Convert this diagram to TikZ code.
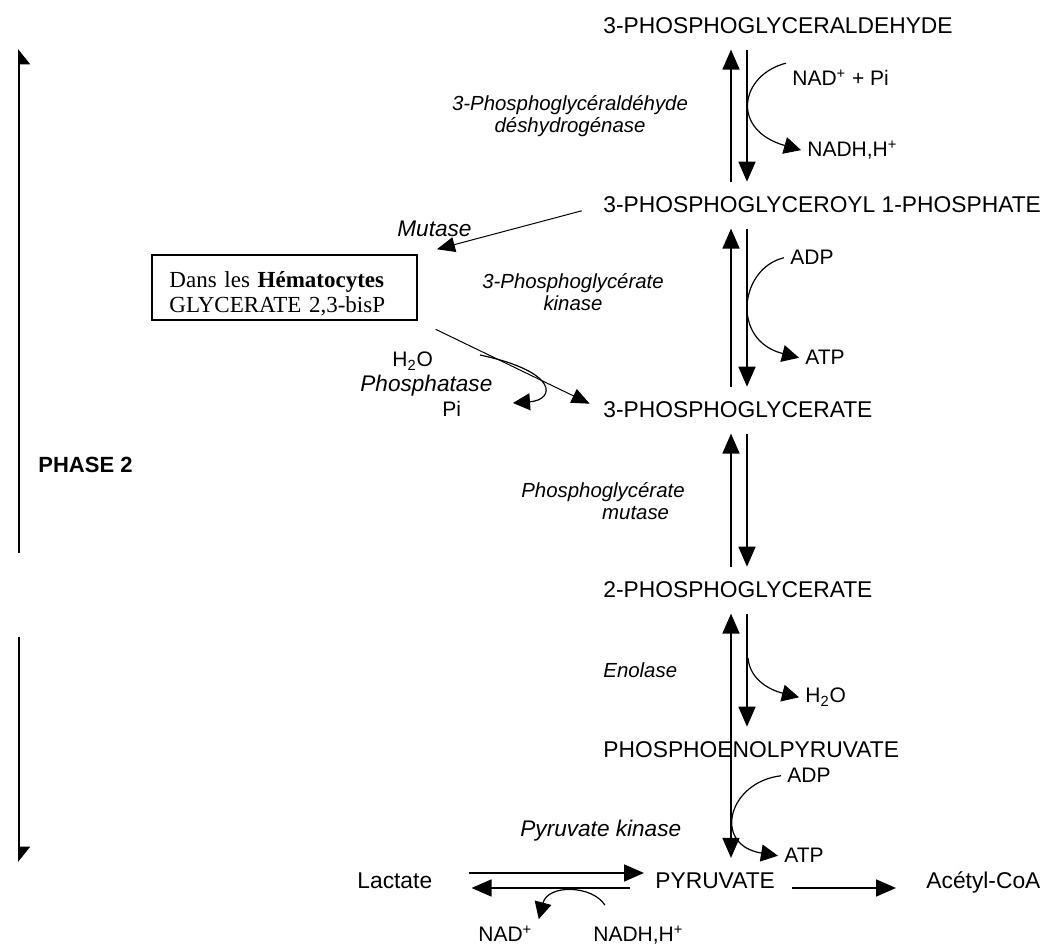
\documentclass[tikz,border=0pt]{standalone}
\usepackage{fontspec}
\setmainfont{Liberation Sans}
\newfontfamily\hemafont{Liberation Serif}
\usetikzlibrary{arrows.meta,calc}

\tikzset{
  metab/.style={anchor=base west,inner xsep=0pt,inner ysep=7.5pt,font=\fontsize{11.4}{13}\selectfont},
  cofac/.style={anchor=base west,inner sep=3pt,font=\fontsize{10.5}{12}\selectfont},
  enz/.style={align=center,inner sep=0pt,font=\fontsize{10.2}{11}\selectfont\itshape},
  enzbig/.style={anchor=base west,inner sep=0pt,font=\fontsize{11.3}{13}\selectfont\itshape},
  rxn/.style={-{Triangle[length=10pt,width=8.5pt]},line width=0.9pt},
  thinrxn/.style={-{Triangle[length=9pt,width=7.5pt]},line width=0.5pt},
  side/.style={-{Triangle[length=8.5pt,width=8.5pt]},line width=0.6pt},
}

\begin{document}
\begin{tikzpicture}[x=0.5pt,y=-0.5pt]
\useasboundingbox (0,0) rectangle (1046,945);
%\draw[help lines,step=50] (0,0) grid (1046,945);
\coordinate (upx) at (731,0); \coordinate (dnx) at (747,0);
\coordinate (hi) at (0,873); \coordinate (lo) at (0,888);
% metabolites
\node[metab] (gap) at (603,34) {3-PHOSPHOGLYCERALDEHYDE};
\node[metab] (bpg) at (603,213) {3-PHOSPHOGLYCEROYL 1-PHOSPHATE};
\node[metab] (pga3) at (603,418) {3-PHOSPHOGLYCERATE};
\node[metab] (pga2) at (603,598) {2-PHOSPHOGLYCERATE};
\node[metab] (pep) at (603,758) {PHOSPHOENOLPYRUVATE};
\node[metab] (pyr) at (655,889) {PYRUVATE};
\node[metab] (lac) at (357,889) {Lactate};
\node[metab] (acoa) at (926,889) {Acétyl-CoA};
\node[draw,line width=0.6pt,minimum width=132.5pt,minimum height=32.5pt,text width=115pt,text height=14pt,
  inner xsep=8.5pt,inner ysep=1.5pt,align=left,
  font=\hemafont\fontsize{11.5}{12.5}\selectfont] (hema) at (284.5,287.5) {Dans les \textbf{Hématocytes}\\GLYCERATE 2,3-bisP};
% enzymes
\node[enz] (gapdh) at (570,116) {3-Phosphoglycéraldéhyde\\déshydrogénase};
\node[enz] (pgk) at (573,292) {3-Phosphoglycérate\\kinase};
\node[enz] (pgm) at (603,501) {Phosphoglycérate\\\hspace*{3.2em}mutase};
\node[enz,anchor=base west] (eno) at (603,678) {Enolase};
\node[enzbig] (pk) at (520,837) {Pyruvate kinase};
\node[enzbig] (mut) at (397,237) {Mutase};
\node[enzbig] (ptase) at (360,392) {Phosphatase};
% cofactors
\node[cofac] (nadpi) at (786,86) {NAD\textsuperscript{+} + Pi};
\node[cofac] (nadh1) at (801,157) {NADH,H\textsuperscript{+}};
\node[cofac] (adp1) at (784,265) {ADP};
\node[cofac] (atp1) at (799,365) {ATP};
\node[cofac] (h2o1) at (799,703) {H\textsubscript{2}O};
\node[cofac] (adp2) at (781,783) {ADP};
\node[cofac] (atp2) at (778,863) {ATP};
\node[cofac] (h2o2) at (386,367) {H\textsubscript{2}O};
\node[cofac] (pi2) at (436,417) {Pi};
\node[cofac] (nad2) at (472,942) {NAD\textsuperscript{+}};
\node[cofac] (nadh2) at (587,942) {NADH,H\textsuperscript{+}};
\node[anchor=base west,inner sep=0pt,font=\fontsize{11}{13}\selectfont\bfseries] (phase) at (38,473) {PHASE 2};
% main column
\draw[rxn] (bpg.north -| upx) -- (gap.south -| upx);
\draw[rxn] (gap.south -| dnx) -- (bpg.north -| dnx);
\draw[rxn] (pga3.north -| upx) -- (bpg.south -| upx);
\draw[rxn] (bpg.south -| dnx) -- (pga3.north -| dnx);
\draw[rxn] (pga2.north -| upx) -- (pga3.south -| upx);
\draw[rxn] (pga3.south -| dnx) -- (pga2.north -| dnx);
\draw[rxn] (pep.north -| upx) -- (pga2.south -| upx);
\draw[rxn] (pga2.south -| dnx) -- (pep.north -| dnx);
\draw[rxn] (pep.north -| upx) -- (pyr.north -| upx);
\draw[side] (nadpi.north west) .. controls (740,75) and (730,130) .. (nadh1.west);
\draw[side] (adp1.west) .. controls (740,268) and (730,340) .. (atp1.west);
\coordinate (enoh) at (748,658);
\draw[side] (enoh) .. controls (750,680) and (770,690) .. (h2o1.west);
\draw[side] (adp2.west) .. controls (728,782) and (712,845) .. (atp2.west);
% pyruvate
\draw[rxn,shorten <=18pt,shorten >=5.5pt] (lac.east |- hi) -- (pyr.west |- hi);
\draw[rxn,shorten <=12.5pt,shorten >=19.5pt] (pyr.west |- lo) -- (lac.east |- lo);
\draw[rxn,shorten <=8.5pt,shorten >=15pt] (pyr.east |- lo) -- (acoa.west |- lo);
\draw[side] ([shift={(18,-14)}]nadh2.north west) .. controls (592,885) and (548,884) .. (nad2.north east);
% hematocytes shunt
\draw[thinrxn,shorten <=11pt,shorten >=10pt] (bpg.west) -- (hema.north east);
\draw[thinrxn,shorten <=10pt,shorten >=7.4pt] (hema.south east) -- (pga3.west);
\coordinate (ptin) at (480,355); \coordinate (ptout) at (513,403);
\draw[side] (ptin) .. controls (560,372) and (555,400) .. (ptout);
% phase bracket
\coordinate (ph1a) at (19,553); \coordinate (ph1b) at (19,49);
\coordinate (ph2a) at (19,637); \coordinate (ph2b) at (19,862);
\draw[line width=1pt,-{Triangle[right,length=7pt,width=11pt]}] (ph1a) -- (ph1b);
\draw[line width=1pt,-{Triangle[left,length=7pt,width=11pt]}] (ph2a) -- (ph2b);
\end{tikzpicture}
\end{document}
